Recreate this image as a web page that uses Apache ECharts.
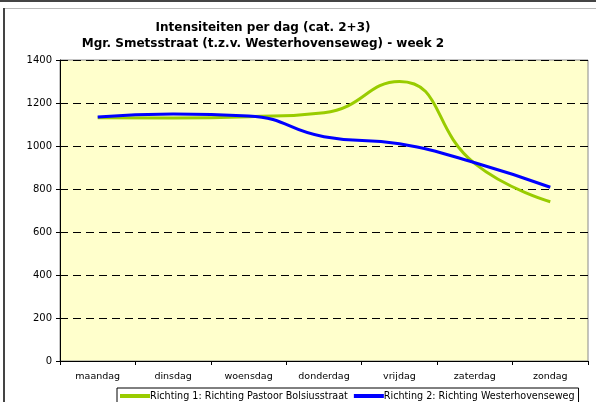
<!DOCTYPE html>
<html>
<head>
<meta charset="utf-8">
<script src="https://cdn.jsdelivr.net/npm/echarts@6/dist/echarts.min.js"></script>
<style>
  html, body { margin: 0; padding: 0; background: #ffffff; }
  #chart { width: 596px; height: 402px; }
</style>
</head>
<body>
<div id="chart"></div>
<script>
// Daily traffic intensities (categories 2+3), both directions
const days = ['maandag', 'dinsdag', 'woensdag', 'donderdag', 'vrijdag', 'zaterdag', 'zondag'];
const richting1 = [1131, 1130, 1136, 1155, 1300, 918, 741];
const richting2 = [1135, 1149, 1140, 1043, 1010, 922, 808];
const seriesNames = [
  'Richting 1: Richting Pastoor Bolsiusstraat',
  'Richting 2: Richting Westerhovenseweg'
];
const yTicks = [0, 200, 400, 600, 800, 1000, 1200, 1400];

const FONT = 'DejaVu Sans';
const chart = echarts.init(document.getElementById('chart'), null, { renderer: 'canvas' });

chart.setOption({
  animation: false,
  backgroundColor: '#ffffff',
  textStyle: { fontFamily: FONT, color: '#000' },
  title: {
    text: 'Intensiteiten per dag (cat. 2+3)\nMgr. Smetsstraat (t.z.v. Westerhovenseweg) - week 2',
    left: 258,
    top: 15,
    textAlign: 'center',
    textStyle: { fontFamily: FONT, fontSize: 12, fontWeight: 'bold', color: '#000', lineHeight: 16 }
  },
  graphic: [
    { type: 'rect', shape: { x: 0, y: 0, width: 596, height: 2 }, style: { fill: '#444' }, silent: true },
    { type: 'line', shape: { x1: 4, y1: 8.5, x2: 596, y2: 8.5 }, style: { stroke: '#bbb', lineWidth: 1 }, silent: true },
    { type: 'line', shape: { x1: 4, y1: 8, x2: 4, y2: 402 }, style: { stroke: '#444', lineWidth: 2 }, silent: true }
  ],
  grid: {
    left: 60, right: 8, top: 60, bottom: 41,
    outerBoundsMode: 'none',
    show: true,
    backgroundColor: '#FFFFCC',
    borderColor: '#8a8a8a',
    borderWidth: 1
  },
  legend: {
    left: 117,
    top: 388,
    orient: 'horizontal',
    padding: [3, 4, 8, 3],
    itemGap: 6,
    itemWidth: 30,
    itemHeight: 4,
    borderColor: '#000',
    borderWidth: 1,
    backgroundColor: '#fff',
    icon: 'rect',
    textStyle: { fontFamily: FONT, fontSize: 9.6, color: '#000', padding: [0, 0, 0, -5] },
    data: seriesNames
  },
  xAxis: {
    type: 'category',
    data: days,
    boundaryGap: true,
    axisLine: { lineStyle: { color: '#000', width: 1 } },
    axisTick: { show: true, interval: 0, length: 4, inside: false, lineStyle: { color: '#000' } },
    axisLabel: { interval: 0, fontFamily: FONT, fontSize: 9.5, color: '#000', margin: 11 },
    splitLine: { show: false }
  },
  yAxis: {
    type: 'value',
    min: 0,
    max: 1400,
    interval: 200,
    axisLine: { show: true, lineStyle: { color: '#000', width: 1 } },
    axisTick: { show: true, length: 4, lineStyle: { color: '#000' } },
    axisLabel: {
      fontFamily: FONT, fontSize: 10, color: '#000', margin: 8,
      formatter: v => (yTicks.includes(v) ? String(v) : '')
    },
    splitLine: { show: true, lineStyle: { color: '#000', type: [8, 5], width: 1 } }
  },
  series: [
    {
      name: seriesNames[0],
      type: 'line',
      data: richting1,
      smooth: 0.5,
      symbol: 'none',
      lineStyle: { color: '#99CC00', width: 3 },
      itemStyle: { color: '#99CC00' }
    },
    {
      name: seriesNames[1],
      type: 'line',
      data: richting2,
      smooth: 0.5,
      symbol: 'none',
      lineStyle: { color: '#0000FF', width: 3 },
      itemStyle: { color: '#0000FF' }
    }
  ]
});
</script>
</body>
</html>
